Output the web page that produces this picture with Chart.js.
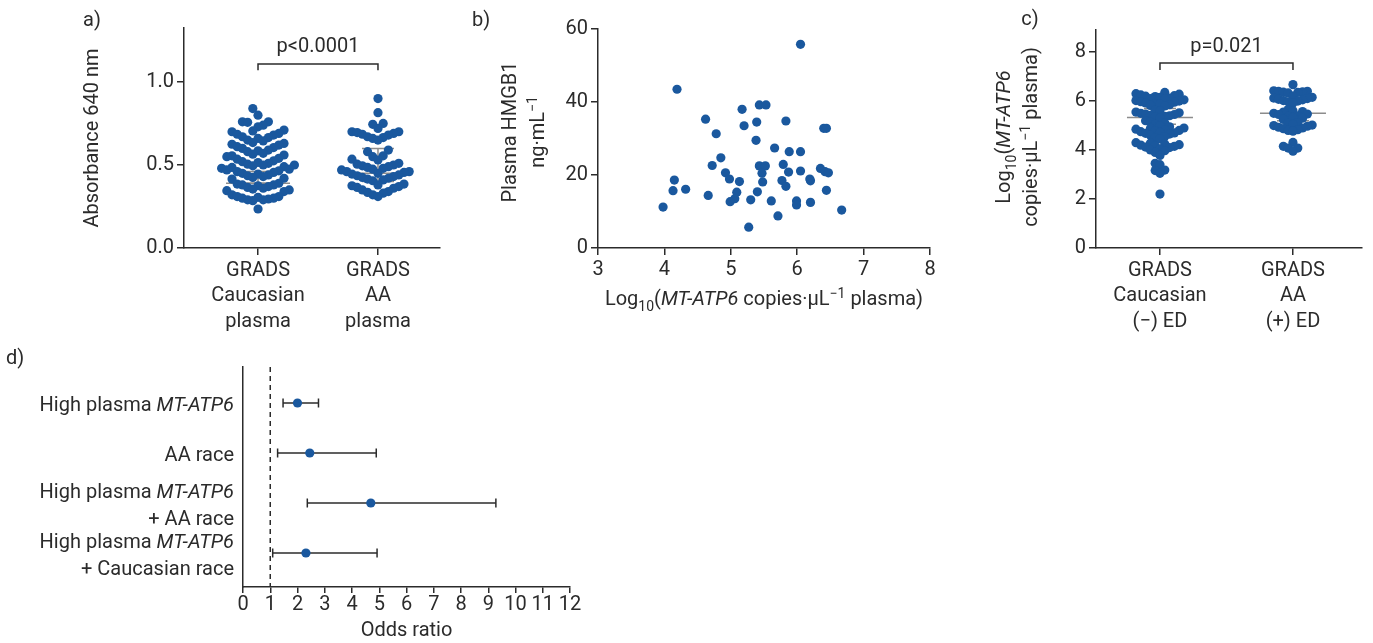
<!DOCTYPE html>
<html><head><meta charset="utf-8">
<script src="https://cdn.jsdelivr.net/npm/chart.js@4"></script>
<style>
html,body{margin:0;padding:0;background:#fff;}
#wrap{position:relative;width:1373px;height:643px;overflow:hidden;background:#fff;}
canvas{position:absolute;}
</style></head><body><div id="wrap">
<canvas id="ca" width="450" height="340" style="left:0;top:0"></canvas>
<canvas id="cb" width="490" height="340" style="left:450px;top:0"></canvas>
<canvas id="cc" width="433" height="340" style="left:940px;top:0"></canvas>
<canvas id="cd" width="640" height="303" style="left:0;top:340px"></canvas>
</div>
<script>
// ---------------- DATA ----------------
// Panel a
const aCategories = [['GRADS','Caucasian','plasma'], ['GRADS','AA','plasma']];
const aYTicks = [0, 0.5, 1.0];
const aCaucasian = [0.84,0.80,0.76,0.76,0.757,0.74,0.73,
  0.71,0.705,0.70,0.69,0.685,0.68,0.67,0.665,0.66,0.65,0.645,0.635,
  0.63,0.625,0.62,0.61,0.605,0.60,0.59,0.585,0.58,0.57,0.565,0.56,0.555,0.55,0.54,0.535,
  0.525,0.52,0.515,0.51,0.505,0.50,0.50,0.495,0.49,0.485,0.48,0.475,
  0.47,0.465,0.46,0.455,0.45,0.445,0.44,0.435,0.43,0.425,0.42,0.415,
  0.39,0.385,0.38,0.38,0.375,0.37,0.365,0.36,0.355,0.35,0.345,0.34,
  0.32,0.31,0.31,0.305,0.30,0.30,0.295,0.29,0.29,0.285,
  0.235];
const aAA = [0.90,0.815,0.75,0.745,0.72,
  0.70,0.70,0.695,0.69,0.685,0.68,0.67,0.665,0.66,0.65,
  0.59,0.58,0.555,0.55,0.535,0.53,
  0.51,0.505,0.50,0.495,0.49,0.485,0.48,0.475,0.47,0.46,
  0.46,0.455,0.45,0.445,0.44,0.435,0.43,0.425,0.42,0.415,0.41,0.405,
  0.385,0.38,0.375,0.37,0.365,0.36,0.35,0.34,0.335,0.33,0.32,0.31];
const aMid = [0.39, 0.45];
const aLow = [0.39, 0.40];
const aHigh = [0.46, 0.60];
const aPLabel = 'p<0.0001';
const aBracket = [1.108, 1.07, 1.225]; // bar level, leg end, label level

// Panel b
const bXTicks = [3,4,5,6,7,8];
const bYTicks = [0,20,40,60];
const bX = [6.05,4.19,5.43,5.53,5.17,4.62,5.39,5.83,5.20,6.40,6.44,4.78,5.38,5.66,5.88,6.05,4.85,4.72,5.43,5.52,5.79,6.35,6.42,6.47,4.92,5.47,5.87,6.05,4.15,4.98,5.13,5.77,6.19,6.20,5.48,5.83,4.13,4.32,5.09,5.40,6.44,4.66,5.06,4.99,5.30,5.61,5.99,5.99,6.20,3.98,6.67,5.71,5.27];
const bY = [55.8,43.5,39.2,39.2,38.0,35.3,34.5,34.8,33.5,32.8,32.8,31.3,29.5,27.4,26.4,26.4,24.7,22.6,22.5,22.5,22.9,21.8,20.9,20.6,20.6,20.5,20.8,21.1,18.6,18.9,18.2,18.5,18.9,18.4,18.1,16.9,15.7,16.1,15.3,15.4,15.8,14.4,13.5,12.7,13.2,12.9,12.9,11.8,12.5,11.2,10.4,8.8,5.7];

// Panel c
const cCategories = [['GRADS','Caucasian','(\u2212) ED'], ['GRADS','AA','(+) ED']];
const cYTicks = [0,2,4,6,8];
const cCaucasian = [6.35,6.3,6.28,6.25,6.22,6.2,6.18,6.15,6.12,6.1,6.08,6.05,6.02,6.0,5.97,5.95,5.92,5.9,5.87,5.85,5.82,5.8,
  5.62,5.6,5.55,5.52,5.5,5.47,5.45,5.42,5.4,5.37,5.35,5.32,
  5.2,5.15,5.1,5.05,5.0,4.95,
  4.9,4.88,4.85,4.82,4.8,4.78,4.75,4.72,4.7,4.68,4.65,4.6,
  4.55,4.5,4.45,
  4.3,4.28,4.25,4.22,4.2,4.17,4.15,4.12,4.1,4.05,4.0,3.97,
  3.9,3.78,
  3.46,3.40,3.18,3.16,3.05,
  2.2];
const cAA = [6.67,
  6.42,6.4,6.4,6.38,6.36,6.35,6.33,
  6.2,6.15,6.12,6.1,6.07,6.05,6.02,6.0,5.97,5.92,
  5.65,5.6,5.57,5.55,5.5,5.47,5.45,5.4,5.37,5.33,5.3,5.25,
  5.12,5.1,5.05,5.02,5.0,4.97,4.93,4.9,4.87,4.83,4.8,4.77,
  4.31,4.15,4.08,4.08,3.95];
const cMid = [5.33, 5.50];
const cLow = [5.05, 5.20];
const cHigh = [5.70, 6.00];
const cPLabel = 'p=0.021';
const cBracket = [7.55, 7.27, 8.29];

// Panel d
const dLabels = [['High plasma *MT-ATP6*'], ['AA race'], ['High plasma *MT-ATP6*', '+ AA race'], ['High plasma *MT-ATP6*', '+ Caucasian race']];
const dOR = [2.0, 2.45, 4.69, 2.31];
const dLow = [1.47, 1.27, 2.36, 1.09];
const dHigh = [2.77, 4.89, 9.28, 4.92];
const dXTicks = [0,1,2,3,4,5,6,7,8,9,10,11,12];
const dRef = 1;

// ---------------- STYLE / HELPERS ----------------
const FONT = 'Roboto';
const FS = 20;
const INK = '#2b2b2b';
const DOT = '#1a589e';
const GREY = '#8c8c8c';
Chart.defaults.font.family = FONT;
Chart.defaults.font.size = FS;
Chart.defaults.color = INK;

function parseRich(s){
  const segs=[]; let i=0, it=false, buf='';
  while(i<s.length){
    const ch=s[i];
    if(ch==='*'){ if(buf) segs.push({t:buf,it}); buf=''; it=!it; i++; continue; }
    if((ch==='_'||ch==='^') && s[i+1]==='{'){
      if(buf) segs.push({t:buf,it}); buf='';
      const e=s.indexOf('}',i);
      segs.push({t:s.slice(i+2,e),it,sub:ch==='_',sup:ch==='^'});
      i=e+1; continue;
    }
    buf+=ch; i++;
  }
  if(buf) segs.push({t:buf,it});
  return segs;
}
function drawRich(ctx, s, x, y, align, rot, size){
  size = size || FS;
  const segs = parseRich(s);
  const fnt = g => (g.it?'italic ':'') + ((g.sub||g.sup)?Math.round(size*0.68):size) + 'px ' + FONT;
  let w=0; const ws=[];
  for(const g of segs){ ctx.font=fnt(g); const m=ctx.measureText(g.t).width; ws.push(m); w+=m; }
  ctx.save(); ctx.translate(x,y); ctx.rotate(rot||0);
  ctx.fillStyle=INK; ctx.textBaseline='alphabetic'; ctx.textAlign='left';
  let cx = align==='center' ? -w/2 : (align==='right' ? -w : 0);
  const base = size*0.36;
  segs.forEach((g,k)=>{
    ctx.font=fnt(g);
    const dy = g.sub ? size*0.28 : (g.sup ? -size*0.36 : 0);
    ctx.fillText(g.t, cx, base+dy);
    cx += ws[k];
  });
  ctx.restore();
}
function seg(ctx,x1,y1,x2,y2){ ctx.beginPath(); ctx.moveTo(x1,y1); ctx.lineTo(x2,y2); ctx.stroke(); }

// column-scatter layout (sorted ascending, alternating left/right slots): horizontal offsets in px
function swarm(values, pxPerUnit, slotW, rowH){
  const order = values.map((v,i)=>i).sort((a,b)=>values[a]-values[b]);
  const placed=[]; const offs=new Array(values.length).fill(0);
  for(const i of order){
    const y=values[i]*pxPerUnit;
    const near=placed.filter(p=>Math.abs(p.y-y)<rowH);
    for(let k=0;k<200;k++){
      const c = k===0 ? 0 : (k%2 ? -Math.ceil(k/2) : Math.ceil(k/2))*slotW;
      if(near.every(p=>Math.abs(p.x-c)>slotW*0.5)){ offs[i]=c; placed.push({x:c,y}); break; }
    }
  }
  return offs;
}

function axisCommon(tickLen){
  return {
    grid:{display:true, drawOnChartArea:false, drawTicks:true, tickLength:tickLen, color:INK, lineWidth:1.5},
    border:{display:true, color:INK, width:1.5},
  };
}
const baseOpts = {responsive:false, animation:false, devicePixelRatio:1, events:[],
  plugins:{legend:{display:false}, tooltip:{enabled:false}}};

function swarmChart(id, cats, yTicks, groups, mids, lows, highs, opts){
  const xMin=opts.xMin, xMax=opts.xMax, yMax=opts.yMax;
  const pxX = opts.plotW/(xMax-xMin), pxY = opts.plotH/yMax;
  const datasets = groups.map((vals,k)=>{
    const o = swarm(vals, pxY, opts.slotW, opts.rowH);
    return {data: vals.map((v,i)=>({x:k+o[i]/pxX, y:v})), pointRadius:opts.r, pointHoverRadius:opts.r,
      pointBackgroundColor:DOT, pointBorderWidth:0, showLine:false};
  });
  const extras = {
    id:'extras_'+id,
    beforeDatasetsDraw(chart){
      const {ctx, scales:{x,y}} = chart;
      ctx.save(); ctx.strokeStyle=GREY; ctx.lineWidth=1.5;
      for(let k=0;k<groups.length;k++){
        const cx=x.getPixelForValue(k);
        seg(ctx,cx-opts.wide,y.getPixelForValue(mids[k]),cx+opts.wide,y.getPixelForValue(mids[k]));
        seg(ctx,cx,y.getPixelForValue(lows[k]),cx,y.getPixelForValue(highs[k]));
        seg(ctx,cx-16,y.getPixelForValue(highs[k]),cx+16,y.getPixelForValue(highs[k]));
        seg(ctx,cx-16,y.getPixelForValue(lows[k]),cx+16,y.getPixelForValue(lows[k]));
      }
      ctx.restore();
    },
    afterDraw(chart){
      const {ctx, scales:{x,y}} = chart;
      ctx.save(); ctx.strokeStyle=INK; ctx.lineWidth=1.5;
      const x0=x.getPixelForValue(0), x1=x.getPixelForValue(1);
      const yb=y.getPixelForValue(opts.bracket[0]), yl=y.getPixelForValue(opts.bracket[1]);
      ctx.beginPath(); ctx.moveTo(x0,yl); ctx.lineTo(x0,yb); ctx.lineTo(x1,yb); ctx.lineTo(x1,yl); ctx.stroke();
      ctx.restore();
      drawRich(ctx, opts.pLabel, (x0+x1)/2, y.getPixelForValue(opts.bracket[2]), 'center', 0);
      drawRich(ctx, opts.letter, opts.letterX, opts.letterY, 'center', 0);
      if(opts.yTitle) opts.yTitle.forEach((t,k)=>drawRich(ctx, t, opts.yTitleX[k], opts.yTitleY, 'center', -Math.PI/2));
    }
  };
  return new Chart(document.getElementById(id), {
    type:'scatter',
    data:{datasets},
    options:Object.assign({}, baseOpts, {
      layout:{padding:opts.padding},
      scales:{
        x:Object.assign(axisCommon(7), {type:'linear', min:xMin, max:xMax,
          afterBuildTicks:s=>{s.ticks=cats.map((c,i)=>({value:i}));},
          afterFit:s=>{s.height=opts.xH;},
          ticks:{callback:(v,i)=>cats[i], padding:3, font:{size:FS, lineHeight:1.27}, color:INK, maxRotation:0, autoSkip:false}}),
        y:Object.assign(axisCommon(7), {type:'linear', min:0, max:yMax,
          afterBuildTicks:s=>{s.ticks=yTicks.map(v=>({value:v}));},
          afterFit:s=>{s.width=opts.yW;},
          ticks:{callback:opts.yFmt, padding:3, color:INK},
          title:opts.nativeTitle ? {display:true, text:opts.nativeTitle, padding:0, font:{size:FS}} : {display:false}})
      }
    }),
    plugins:[extras]
  });
}

// ---------------- PANEL a ----------------
swarmChart('ca', aCategories, aYTicks, [aCaucasian, aAA], aMid, aLow, aHigh, {
  xMin:-0.617, xMax:1.517, yMax:1.325, plotW:256, plotH:220, slotW:5.2, rowH:11, r:4.6, wide:32,
  padding:{left:81, top:28, right:10, bottom:0}, xH:92, yW:103,
  yFmt:v=>v.toFixed(1), nativeTitle:'Absorbance 640 nm',
  bracket:aBracket, pLabel:aPLabel, letter:'a)', letterX:92, letterY:19
});

// ---------------- PANEL c ----------------
swarmChart('cc', cCategories, cYTicks, [cCaucasian, cAA], cMid, cLow, cHigh, {
  xMin:-0.481, xMax:1.519, yMax:8.9, plotW:266, plotH:218, slotW:4.8, rowH:6.5, r:4.6, wide:33,
  padding:{left:0, top:30, right:11, bottom:0}, xH:92, yW:156,
  yFmt:v=>String(v),
  yTitle:['Log_{10}(*MT-ATP6*', 'copies\u00b7\u00b5L^{\u22121} plasma)'], yTitleX:[63, 90], yTitleY:137,
  bracket:cBracket, pLabel:cPLabel, letter:'c)', letterX:90, letterY:18
});

// ---------------- PANEL b ----------------
new Chart(document.getElementById('cb'), {
  type:'scatter',
  data:{datasets:[{data:bX.map((v,i)=>({x:v, y:bY[i]})), pointRadius:4.6, pointHoverRadius:4.6,
    pointBackgroundColor:DOT, pointBorderWidth:0}]},
  options:Object.assign({}, baseOpts, {
    layout:{padding:{left:0, top:29, right:10, bottom:0}},
    scales:{
      x:Object.assign(axisCommon(7), {type:'linear', min:3, max:8,
        afterBuildTicks:s=>{s.ticks=bXTicks.map(v=>({value:v}));},
        afterFit:s=>{s.height=92;}, ticks:{padding:3, color:INK}}),
      y:Object.assign(axisCommon(7), {type:'linear', min:0, max:60,
        afterBuildTicks:s=>{s.ticks=bYTicks.map(v=>({value:v}));},
        afterFit:s=>{s.width=148;}, ticks:{padding:3, color:INK}})
    }
  }),
  plugins:[{id:'bx', afterDraw(chart){
    const ctx=chart.ctx, a=chart.chartArea;
    drawRich(ctx, 'Log_{10}(*MT-ATP6* copies\u00b7\u00b5L^{\u22121} plasma)', (a.left+a.right)/2, 298, 'center', 0);
    drawRich(ctx, 'Plasma HMGB1', 59, 132, 'center', -Math.PI/2);
    drawRich(ctx, 'ng\u00b7mL^{\u22121}', 87, 132, 'center', -Math.PI/2);
    drawRich(ctx, 'b)', 31, 19, 'center', 0);
  }}]
});

// ---------------- PANEL d ----------------
new Chart(document.getElementById('cd'), {
  type:'scatter',
  data:{datasets:[{data:dOR.map((v,i)=>({x:v, y:i})), pointRadius:4.6, pointHoverRadius:4.6,
    pointBackgroundColor:DOT, pointBorderWidth:0}]},
  options:Object.assign({}, baseOpts, {
    layout:{padding:{left:0, top:27, right:70, bottom:0}},
    scales:{
      x:Object.assign(axisCommon(6), {type:'linear', min:0, max:12,
        afterBuildTicks:s=>{s.ticks=dXTicks.map(v=>({value:v}));},
        afterFit:s=>{s.height=56;}, ticks:{padding:0, color:INK, autoSkip:false, maxRotation:0, minRotation:0},
        title:{display:true, text:'Odds ratio', padding:0, font:{size:FS}}}),
      y:{type:'linear', min:-0.72, max:3.68, reverse:true,
        grid:{display:false}, border:{display:true, color:INK, width:1.5},
        ticks:{display:false}, afterFit:s=>{s.width=243;}}
    }
  }),
  plugins:[{id:'dx',
    beforeDatasetsDraw(chart){
      const {ctx, chartArea:a, scales:{x,y}} = chart;
      ctx.save(); ctx.strokeStyle=INK; ctx.lineWidth=1.5;
      ctx.setLineDash([5,4]);
      const rx=x.getPixelForValue(dRef);
      seg(ctx, rx, a.top, rx, a.bottom);
      ctx.setLineDash([]);
      for(let i=0;i<dOR.length;i++){
        const yy=y.getPixelForValue(i), xl=x.getPixelForValue(dLow[i]), xh=x.getPixelForValue(dHigh[i]);
        seg(ctx, xl, yy, xh, yy);
        seg(ctx, xl, yy-4.5, xl, yy+4.5);
        seg(ctx, xh, yy-4.5, xh, yy+4.5);
      }
      ctx.restore();
    },
    afterDraw(chart){
      const {ctx, scales:{y}} = chart;
      dLabels.forEach((lines,i)=>{
        const yc=y.getPixelForValue(i)+1, lh=26.7;
        lines.forEach((t,k)=>drawRich(ctx, t, 234, yc+(k-(lines.length-1)/2)*lh, 'right', 0));
      });
      drawRich(ctx, 'd)', 15, 17, 'center', 0);
    }
  }]
});
</script>
</body></html>
